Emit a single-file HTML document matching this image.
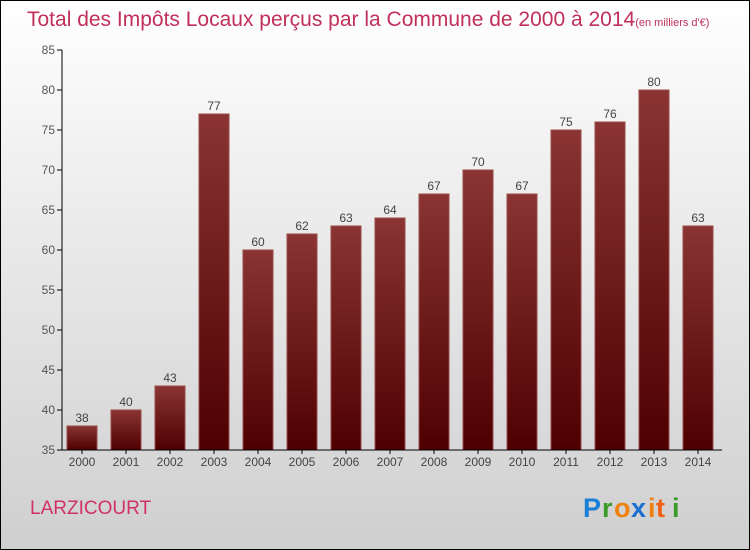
<!DOCTYPE html>
<html><head><meta charset="utf-8"><style>
body{margin:0}
#c{width:748px;height:548px;border:1px solid #000;background:linear-gradient(#fff,#f0f0f0 30%,#cfcfcf);position:relative;overflow:hidden;font-family:"Liberation Sans",sans-serif}
</style></head><body>
<div id="c">
<svg width="748" height="548" viewBox="1 1 748 548" style="position:absolute;left:0;top:0">
<defs><linearGradient id="g" x1="0" y1="0" x2="0" y2="1"><stop offset="0" stop-color="#8a3434"/><stop offset="1" stop-color="#4e0000"/></linearGradient></defs>
<text x="27" y="26" font-size="21" fill="#c0305a">Total des Impôts Locaux perçus par la Commune de 2000 à 2014<tspan font-size="11">(en milliers d'€)</tspan></text>
<g id="plot"></g>
<text x="30" y="514" font-size="19" fill="#d0306a">LARZICOURT</text>
<g font-size="27" font-weight="bold" font-family="Liberation Sans,sans-serif">
<text x="583" y="517" fill="#1a7fd6">P</text><text x="602" y="517" fill="#3a9a2a">r</text><text x="614" y="517" fill="#f08010">o</text><text x="631" y="517" fill="#1a6fd0">x</text><text x="648" y="517" fill="#f08010">i</text><text x="656" y="517" fill="#f06010">t</text><text x="672" y="517" fill="#3a9a2a">i</text>
</g>
</svg>
</div>
<script>
const years=["2000","2001","2002","2003","2004","2005","2006","2007","2008","2009","2010","2011","2012","2013","2014"];
const values=[38,40,43,77,60,62,63,64,67,70,67,75,76,80,63];
const yTicks=[35,40,45,50,55,60,65,70,75,80,85];
const NS="http://www.w3.org/2000/svg";
const g=document.getElementById("plot");
const y=v=>450-(v-35)*8;
const x=i=>82+i*44;
function mk(t,a){const e=document.createElementNS(NS,t);for(const k in a)e.setAttribute(k,a[k]);g.appendChild(e);return e;}
yTicks.forEach(v=>{
 const l=mk("line",{x1:57,x2:62,y1:y(v),y2:y(v),stroke:"#000"});
 
 
 const t=mk("text",{x:55,y:y(v)+4,"text-anchor":"end","font-size":"12",fill:"#555"});t.textContent=v;
 
 
});
values.forEach((v,i)=>{
 const r=mk("rect",{x:x(i)-15,y:y(v),width:30,height:450-y(v),fill:"url(#g)",stroke:"#9a4a4a","stroke-width":"1"});
 
 
 const t=mk("text",{x:x(i),y:y(v)-4,"text-anchor":"middle","font-size":"12",fill:"#444"});t.textContent=v;
 
 
 const xt=mk("line",{x1:x(i),x2:x(i),y1:450,y2:454,stroke:"#000"});
 
 
 const xl=mk("text",{x:x(i),y:466,"text-anchor":"middle","font-size":"12",fill:"#444"});xl.textContent=years[i];
 
 
});
const ya=mk("line",{x1:62,x2:62,y1:50,y2:450,stroke:"#000"});


const xa=mk("line",{x1:62,x2:722,y1:450,y2:450,stroke:"#000"});


</script>
</body></html>
